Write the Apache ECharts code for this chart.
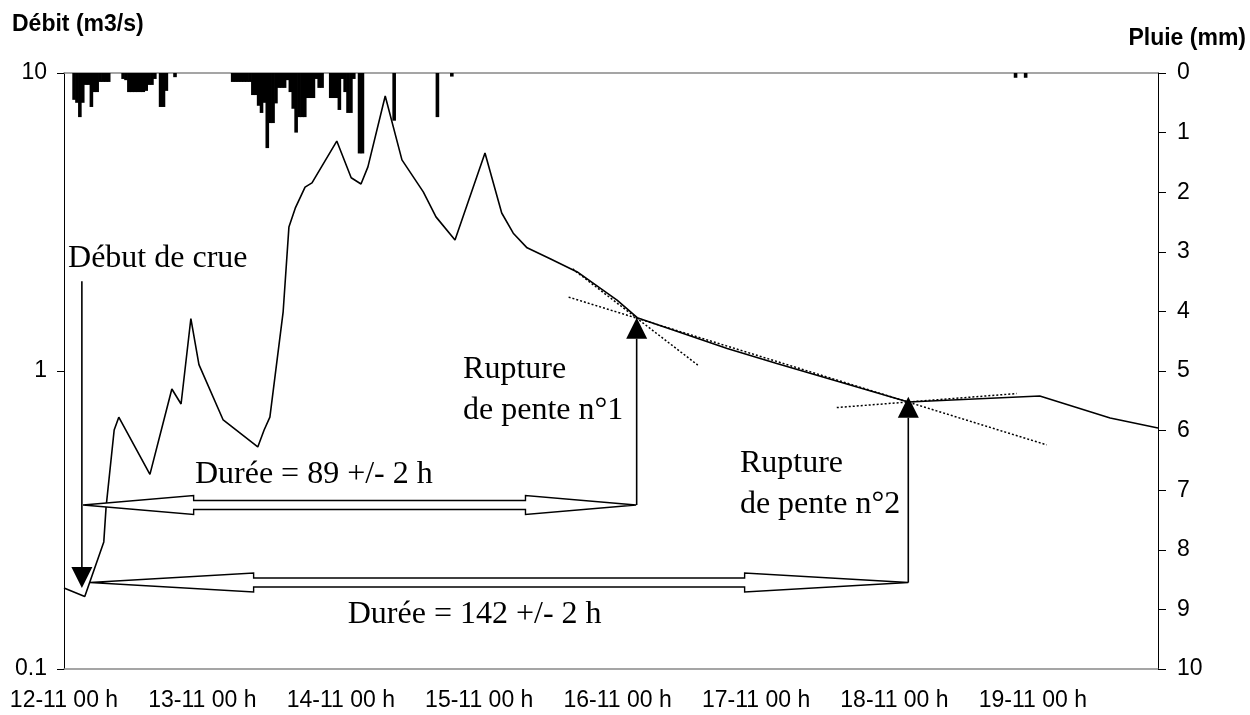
<!DOCTYPE html>
<html><head><meta charset="utf-8">
<script src="https://cdn.jsdelivr.net/npm/echarts@6/dist/echarts.min.js"></script>
<style>html,body{margin:0;padding:0;background:#fff}#c{width:1250px;height:715px}</style>
</head><body><div id="c"></div>
<script>
// ---------- DATA ----------
const xTickLabels = ['12-11 00 h','13-11 00 h','14-11 00 h','15-11 00 h','16-11 00 h','17-11 00 h','18-11 00 h','19-11 00 h'];
const flowTicks = [0.1, 1, 10];
const X_MAX = 189.7; // hours after 12-11 00 h

// Flow (m3/s) vs hours after 12-11 00 h
const flowHours  = [0, 3.6, 6.9, 7.3, 8.7, 9.5, 14.9, 18.7, 20.3, 22.0, 23.4, 27.6, 33.6, 34.7, 35.7, 38.0, 39.0, 40.1, 41.8, 43.0, 47.3, 49.8, 51.5, 52.7, 55.7, 58.6, 62.3, 64.5, 67.8, 73.0, 75.9, 77.9, 80.3, 84.3, 89.0, 95.9, 99.4, 115.0, 123.6, 146.4, 169.2, 181.4, 189.7];
const flowValues = [0.187, 0.175, 0.267, 0.35, 0.634, 0.70, 0.45, 0.87, 0.775, 1.5, 1.05, 0.685, 0.556, 0.634, 0.70, 1.58, 3.04, 3.52, 4.14, 4.28, 5.91, 4.45, 4.24, 4.84, 8.37, 5.11, 3.99, 3.29, 2.75, 5.39, 3.39, 2.90, 2.59, 2.38, 2.15, 1.73, 1.51, 1.19, 1.06, 0.787, 0.824, 0.695, 0.644];

// Rain (mm) per half hour, bar centre in hours
const rainHours  = [1.75, 2.25, 2.75, 3.25, 3.75, 4.25, 4.75, 5.25, 5.75, 6.25, 6.75, 7.25, 7.75,
  10.25, 10.75, 11.25, 11.75, 12.25, 12.75, 13.25, 13.75, 14.25, 14.75, 15.25, 15.75,
  16.75, 17.25, 17.75, 19.25,
  29.25, 29.75, 30.25, 30.75, 31.25, 31.75, 32.25, 32.75, 33.25, 33.75, 34.25, 34.75, 35.25, 35.75, 36.25, 36.75, 37.25, 37.75, 38.25, 38.75, 39.25, 39.75, 40.25, 40.75, 41.25, 41.75, 42.25, 42.75, 43.25, 43.75, 44.25, 44.75,
  46.25, 46.75, 47.25, 47.75, 48.25, 48.75, 49.25, 49.75, 50.25, 51.25, 51.75,
  57.25, 64.75, 67.25, 165.0, 166.75];
const rainValues = [0.45, 0.5, 0.74, 0.5, 0.2, 0.2, 0.57, 0.32, 0.32, 0.15, 0.15, 0.15, 0.15,
  0.1, 0.12, 0.32, 0.32, 0.32, 0.32, 0.32, 0.32, 0.3, 0.2, 0.2, 0.1,
  0.57, 0.57, 0.3, 0.07,
  0.15, 0.15, 0.15, 0.15, 0.15, 0.15, 0.15, 0.37, 0.37, 0.55, 0.67, 0.5, 1.26, 0.84, 0.84, 0.51, 0.25, 0.25, 0.25, 0.12, 0.32, 0.6, 1.0, 0.74, 0.74, 0.74, 0.42, 0.42, 0.42, 0.1, 0.25, 0.25,
  0.42, 0.42, 0.42, 0.62, 0.1, 0.32, 0.67, 0.67, 0.1, 1.35, 1.35,
  0.8, 0.74, 0.06, 0.08, 0.08];

// Recession tangents (dotted)
const tangent1Hours = [88.2, 109.9], tangent1Values = [2.20, 1.047];
const tangent2Hours = [87.5, 170.4], tangent2Values = [1.77, 0.565];
const tangent3Hours = [134.0, 165.2], tangent3Values = [0.754, 0.84];

// Annotations (data coordinates)
const debutArrow  = {hour: 3.1, fromQ: 2.0, toQ: 0.187};
const rupture1    = {hour: 99.3, tipQ: 1.51, baseQ: 0.355};
const rupture2    = {hour: 146.4, tipQ: 0.82, baseQ: 0.195};
const duree1      = {fromHour: 3.3, toHour: 99.2, q: 0.355};
const duree2      = {fromHour: 4.5, toHour: 146.4, q: 0.195};
const labels = [
  {text: 'Début de crue', hour: 0.7, q: 2.39},
  {text: 'Durée = 89 +/- 2 h', hour: 22.7, q: 0.448},
  {text: 'Rupture\nde pente n°1', hour: 69.2, q: 0.863},
  {text: 'Rupture\nde pente n°2', hour: 117.2, q: 0.418},
  {text: 'Durée = 142 +/- 2 h', hour: 49.2, q: 0.152}
];

// ---------- CHART ----------
const ARIAL = '"Liberation Sans", Arial, sans-serif';
const TIMES = '"Liberation Serif", "Times New Roman", serif';
const chart = echarts.init(document.getElementById('c'), null, {renderer: 'canvas'});
const zip = (a, b) => a.map((v, i) => [v, b[i]]);
const dotted = (h, v) => ({type: 'line', xAxisIndex: 0, yAxisIndex: 0, data: zip(h, v), symbol: 'none', silent: true, z: 3,
  lineStyle: {color: '#000', width: 1.5, type: [2, 2]}});

chart.setOption({
  animation: false,
  backgroundColor: '#fff',
  title: [
    {text: 'Débit (m3/s)', left: 12, top: 13, padding: 0, textStyle: {fontFamily: ARIAL, fontSize: 23, fontWeight: 'bold', color: '#000'}},
    {text: 'Pluie (mm)', right: 4, top: 27, padding: 0, textStyle: {fontFamily: ARIAL, fontSize: 23, fontWeight: 'bold', color: '#000'}}
  ],
  grid: {left: 64, right: 92, top: 73, bottom: 46},
  xAxis: [
    {type: 'value', min: 0, max: X_MAX, interval: 24, position: 'bottom',
     axisLine: {onZero: false, lineStyle: {color: '#888', width: 1.5}}, axisTick: {show: false}, splitLine: {show: false},
     axisLabel: {margin: 20, fontFamily: ARIAL, fontSize: 23, color: '#000', showMaxLabel: false,
       formatter: v => { const i = Math.round(v / 24); return (Math.abs(v - 24 * i) < 1e-6 && xTickLabels[i]) ? xTickLabels[i] : ''; }}},
    {type: 'value', min: 0, max: X_MAX, position: 'top',
     axisLine: {onZero: false, lineStyle: {color: '#888', width: 1.5}}, axisTick: {show: false}, axisLabel: {show: false}, splitLine: {show: false}}
  ],
  yAxis: [
    {type: 'log', logBase: 10, min: 0.1, max: 10, interval: 1, splitNumber: 2, position: 'left',
     axisLine: {show: true, onZero: false, lineStyle: {color: '#000', width: 1}},
     axisTick: {show: true, inside: false, length: 7, customValues: flowTicks, lineStyle: {color: '#000', width: 1}},
     minorTick: {show: false}, splitLine: {show: false},
     axisLabel: {margin: 17, fontFamily: ARIAL, fontSize: 23, color: '#000', customValues: flowTicks,
       formatter: v => String(+(+v).toPrecision(3))}},
    {type: 'value', min: 0, max: 10, interval: 1, inverse: true, position: 'right',
     axisLine: {show: true, onZero: false, lineStyle: {color: '#000', width: 1}},
     axisTick: {show: true, inside: false, length: 8, lineStyle: {color: '#000', width: 1}},
     splitLine: {show: false},
     axisLabel: {margin: 19, fontFamily: ARIAL, fontSize: 23, color: '#000'}}
  ],
  series: [
    {type: 'bar', xAxisIndex: 0, yAxisIndex: 1, barWidth: 3.6, data: zip(rainHours, rainValues),
     itemStyle: {color: '#000'}, silent: true, z: 2},
    {type: 'line', xAxisIndex: 0, yAxisIndex: 0, data: zip(flowHours, flowValues), symbol: 'none', silent: true, z: 4,
     lineStyle: {color: '#000', width: 1.6}},
    dotted(tangent1Hours, tangent1Values),
    dotted(tangent2Hours, tangent2Values),
    dotted(tangent3Hours, tangent3Values)
  ]
});

// ---------- ANNOTATIONS ----------
const P = (h, q) => chart.convertToPixel({xAxisIndex: 0, yAxisIndex: 0}, [h, q]);
const g = [];
function triangleArrow(x, yTip, yBase, dir) { // dir: +1 pointing down, -1 pointing up
  const hh = 21, hw = 10.5;
  g.push({type: 'line', z: 100, shape: {x1: x, y1: yBase, x2: x, y2: yTip - dir * hh}, style: {stroke: '#000', lineWidth: 1.6}});
  g.push({type: 'polygon', z: 101, shape: {points: [[x, yTip], [x - hw, yTip - dir * hh], [x + hw, yTip - dir * hh]]}, style: {fill: '#000'}});
}
function blockArrow(x1, x2, y) {
  const L = 0.2 * (x2 - x1), H = 9.5, S = 4.5;
  g.push({type: 'polygon', z: 100, shape: {points: [
    [x1, y], [x1 + L, y - H], [x1 + L, y - S], [x2 - L, y - S], [x2 - L, y - H], [x2, y],
    [x2 - L, y + H], [x2 - L, y + S], [x1 + L, y + S], [x1 + L, y + H]]},
    style: {fill: '#fff', stroke: '#000', lineWidth: 1.4}});
}
let a = P(debutArrow.hour, debutArrow.fromQ), b = P(debutArrow.hour, debutArrow.toQ);
triangleArrow(a[0], b[1], a[1], 1);
a = P(duree1.fromHour, duree1.q); b = P(duree1.toHour, duree1.q); blockArrow(a[0], b[0], a[1]);
a = P(duree2.fromHour, duree2.q); b = P(duree2.toHour, duree2.q); blockArrow(a[0], b[0], a[1]);
a = P(rupture1.hour, rupture1.tipQ); b = P(rupture1.hour, rupture1.baseQ); triangleArrow(a[0], a[1], b[1], -1);
a = P(rupture2.hour, rupture2.tipQ); b = P(rupture2.hour, rupture2.baseQ); triangleArrow(a[0], a[1], b[1], -1);
labels.forEach(l => {
  const p = P(l.hour, l.q);
  g.push({type: 'text', z: 102, x: p[0], y: p[1], style: {text: l.text, fontFamily: TIMES, fontSize: 32, fill: '#000',
    align: 'left', verticalAlign: 'middle', lineHeight: 41}});
});
chart.setOption({graphic: g});
</script>
</body></html>
